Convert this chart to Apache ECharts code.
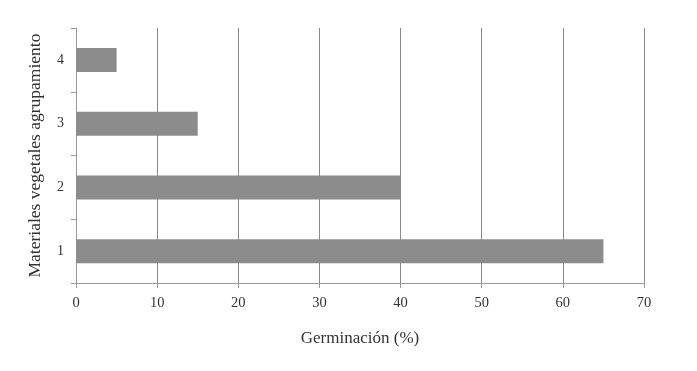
<!DOCTYPE html>
<html>
<head>
<meta charset="utf-8">
<script src="https://cdn.jsdelivr.net/npm/echarts@6/dist/echarts.min.js"></script>
<style>html,body{margin:0;padding:0;background:#fff;}#c{width:697px;height:371px;}</style>
</head>
<body>
<div id="c"></div>
<script>
var categories = ['1', '2', '3', '4'];
var germinacion = [65, 40, 15, 5];
var xTicks = [0, 10, 20, 30, 40, 50, 60, 70];

var chart = echarts.init(document.getElementById('c'), null, {renderer: 'canvas'});
var font = '"Liberation Serif", "Times New Roman", serif';
chart.setOption({
  animation: false,
  backgroundColor: '#ffffff',
  grid: {left: 76, right: 53, top: 28, bottom: 88},
  xAxis: {
    type: 'value',
    min: xTicks[0], max: xTicks[xTicks.length - 1], interval: 10,
    name: 'Germinación (%)',
    nameLocation: 'middle',
    nameGap: 47,
    nameTextStyle: {fontFamily: font, fontSize: 17, color: '#333'},
    axisLine: {show: true, lineStyle: {color: '#999', width: 1}},
    axisTick: {show: true, length: 5, lineStyle: {color: '#999'}},
    axisLabel: {fontFamily: font, fontSize: 14.5, color: '#333', margin: 13},
    splitLine: {show: true, lineStyle: {color: '#888', width: 1}}
  },
  yAxis: {
    type: 'category',
    data: categories,
    name: 'Materiales vegetales agrupamiento',
    nameLocation: 'middle',
    nameGap: 32,
    nameTextStyle: {fontFamily: font, fontSize: 17.5, color: '#333'},
    axisLine: {show: true, lineStyle: {color: '#999', width: 1}},
    axisTick: {show: true, length: 5, lineStyle: {color: '#999'}},
    axisLabel: {fontFamily: font, fontSize: 14, color: '#333', margin: 12},
    splitLine: {show: false}
  },
  series: [{
    type: 'bar',
    data: germinacion,
    barWidth: 24,
    itemStyle: {color: '#8c8c8c'}
  }]
});
</script>
</body>
</html>
